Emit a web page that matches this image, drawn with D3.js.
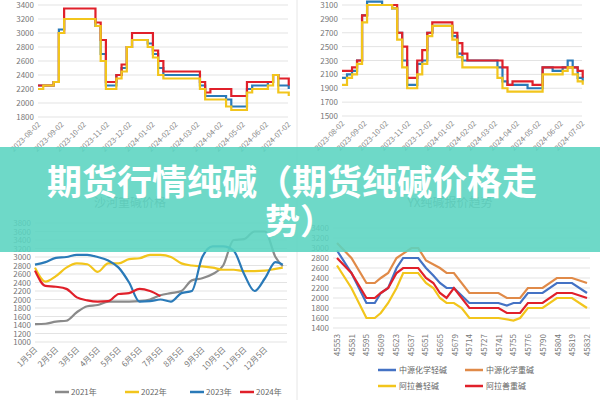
<!DOCTYPE html>
<html><head><meta charset="utf-8">
<script src="https://cdn.jsdelivr.net/npm/d3@7"></script>
<style>body{margin:0;background:#fff}svg{display:block}</style>
</head><body><svg id="c" width="600" height="400"></svg>
<script>
// ---------- data ----------
const weekStart = "2023-08-02", weekCount = 49;
const topTicks = ["2023-08-02","2023-09-02","2023-10-02","2023-11-02","2023-12-02","2024-01-02","2024-02-02","2024-03-02","2024-04-02","2024-05-02","2024-06-02","2024-07-02"];
const tlRed = [2250,2250,2250,2300,3000,3350,3350,3350,3350,3350,3350,3150,2900,2300,2300,2400,2550,2800,3000,3000,3000,3000,2750,2600,2450,2450,2450,2450,2450,2450,2450,2300,2150,2200,2200,2200,2200,2100,2100,2100,2300,2300,2300,2300,2300,2400,2350,2350,2250];
const tlBlue = [2250,2250,2250,2300,3050,3200,3200,3200,3200,3200,3200,3100,2700,2250,2250,2400,2500,2800,2900,2900,2900,2850,2700,2500,2400,2400,2400,2400,2400,2400,2400,2250,2100,2100,2100,2100,2050,1950,1950,1950,2200,2250,2250,2250,2300,2400,2250,2250,2200];
const tlYellow = [2200,2250,2250,2300,3000,3200,3200,3200,3200,3200,3200,3100,2600,2200,2200,2350,2450,2800,2900,2900,2900,2800,2650,2400,2350,2350,2350,2350,2350,2350,2350,2200,2050,2050,2050,2050,1950,1900,1900,1900,2150,2200,2200,2200,2250,2400,2150,2150,2100];
const trRed = [2150,2150,2200,2300,2950,3100,3100,3100,3100,3100,3100,2700,2500,2050,2050,2300,2450,2700,2850,2850,2850,2850,2700,2550,2400,2300,2300,2300,2300,2300,2300,2300,2200,1950,2000,2000,2000,2000,1950,1950,2200,2200,2200,2200,2200,2200,2200,2150,2050];
const trBlue = [2050,2100,2150,2300,2950,3150,3150,3150,3100,3100,3050,2700,2300,1950,1950,2250,2300,2700,2800,2800,2800,2800,2650,2400,2300,2300,2300,2300,2300,2300,2300,2200,2000,1950,1950,1950,1950,1900,1900,1900,2200,2200,2150,2150,2200,2300,2200,2050,2000];
const trYellow = [1950,2050,2100,2250,2850,3100,3100,3100,3100,3100,3050,2600,2200,1900,1900,2100,2250,2650,2800,2800,2800,2800,2600,2350,2200,2200,2200,2200,2200,2200,2200,2050,1900,1850,1850,1850,1850,1850,1850,1850,2100,2100,2100,2100,2150,2200,2100,2000,1950];

const blMonths = ["1月5日","2月5日","3月5日","4月5日","5月5日","6月5日","7月5日","8月5日","9月5日","10月5日","11月5日","12月5日"];
const blPos = [0,0.5,1,1.5,2,2.5,3,3.5,4,4.5,5,5.5,6,6.5,7,7.5,8,8.5,9,9.5,10,10.5,11,11.5,11.85];
const bl2021 = [1420,1430,1480,1500,1700,1840,1870,1950,1950,1950,1960,2000,2100,2150,2200,2450,2500,2600,2800,3400,3420,3600,3600,3000,2780];
const bl2022 = [2750,2420,2550,2750,2850,2830,2650,2850,2850,2950,2970,3050,3050,3000,2850,2800,2780,2750,2700,2700,2670,2670,2680,2720,2750];
const bl2023 = [2820,2880,2980,3000,3050,3050,3000,2920,2750,2400,1950,1960,2000,1950,2150,2200,3000,3250,3250,3150,2600,2200,2500,2880,2820];
const bl2024 = [2680,2320,2300,2250,2050,1980,1950,1960,2130,2150,2250,2200,2080];
const blNames = ["2021年","2022年","2023年","2024年"];

const brCats = ["45553","45581","45595","45609","45623","45637","45651","45665","45679","45714","45727","45741","45755","45776","45790","45804","45819","45832"];
const brPosA = [0,0.98,2,2.57,2.98,3.48,4.05,5.07,5.52,6.05,7.0,7.45,7.95,9.0,10.98,11.55,12.45,12.98,13.98,14.95,15.98,17];
const brOrange = [3100,2800,2300,2300,2400,2500,2800,3000,3000,2750,2600,2500,2500,2100,2100,2000,2000,2200,2200,2400,2400,2300];
const brPosB = [0,0.98,2,2.57,2.98,3.48,4.05,4.5,5.52,6.05,6.55,7.0,7.45,7.95,9.0,10.98,11.55,12.0,12.45,12.98,13.98,14.95,15.98,17];
const brBlue   = [2950,2500,1900,1900,2100,2200,2600,2800,2800,2600,2450,2300,2200,2200,1900,1900,1850,1900,1900,2100,2100,2300,2300,2100];
const brRed    = [2800,2500,2000,2000,2100,2200,2500,2600,2600,2400,2300,2100,2000,2200,1800,1800,1700,1700,1700,1900,1900,2100,2100,2000];
const brPosC = [0,0.98,2,2.57,2.98,3.48,4.05,4.5,5.52,6.05,6.55,7.0,7.45,7.95,8.48,9.0,10.98,12.0,12.45,12.98,13.98,14.95,15.98,17];
const brYellow = [2650,2200,1600,1600,1700,1900,2200,2500,2500,2300,2200,2000,1900,1900,1800,1600,1600,1550,1600,1800,1800,2000,2000,1800];
const brNames = ["中源化学轻碱","中源化学重碱","阿拉善轻碱","阿拉善重碱"];

const titleLines = ["期货行情纯碱（期货纯碱价格走","势）"];
const subTitles = ["沙河重碱价格","YX纯碱报价趋势"];

// ---------- drawing ----------
const svg = d3.select("#c");
const F = "'Noto Sans CJK SC','Noto Sans',sans-serif";
const C = {red:"#e0202a",blue:"#2a7ab8",yellow:"#f2c51c",gray:"#8a8a8a",orange:"#e08a48",blue2:"#4472c4"};
const parse = d3.timeParse("%Y-%m-%d");
const d0 = parse(weekStart);
const weeks = d3.range(weekCount).map(i => d3.timeDay.offset(d0, i*7));

function grid(g, y, ticks, x0, x1){
  ticks.forEach(t => {
    g.append("line").attr("x1",x0).attr("x2",x1).attr("y1",y(t)).attr("y2",y(t)).attr("stroke","#e3e3e3");
    g.append("text").attr("x",x0-4).attr("y",y(t)+3).attr("text-anchor","end").attr("font-size",8).attr("fill","#777").attr("font-family",F).text(t);
  });
}

function topChart(x0,x1,yDom,yRange,ticks,series){
  const g = svg.append("g");
  const x = d3.scaleTime().domain([parse(topTicks[0]),parse(topTicks[topTicks.length-1])]).range([x0,x1]);
  const y = d3.scaleLinear().domain(yDom).range(yRange);
  grid(g,y,ticks,x0,x1);
  topTicks.forEach(t=>{
    g.append("text").attr("transform",`translate(${x(parse(t))+3},${yRange[0]+8}) rotate(-45)`)
     .attr("text-anchor","end").attr("font-size",7.5).attr("fill","#888").attr("font-family",F).text(t);
  });
  series.forEach(([vals,col])=>{
    const line = d3.line().x((d,i)=>x(weeks[i])).y(d=>y(d)).curve(d3.curveStepAfter);
    g.append("path").attr("d",line(vals)).attr("fill","none").attr("stroke",col).attr("stroke-width",2.2);
  });
}
topChart(38,288,[1800,3400],[117,5],d3.range(1800,3401,200),[[tlBlue,C.blue],[tlRed,C.red],[tlYellow,C.yellow]]);
topChart(342,582,[1500,3100],[116,5],d3.range(1500,3101,200),[[trBlue,C.blue],[trRed,C.red],[trYellow,C.yellow]]);
svg.append("line").attr("x1",297).attr("x2",297).attr("y1",0).attr("y2",400).attr("stroke","#e6e6e6");

// bottom-left
{
  const g = svg.append("g");
  const x = d3.scaleLinear().domain([0,11]).range([35,265]);
  const y = d3.scaleLinear().domain([1000,3800]).range([342,223]);
  grid(g,y,d3.range(1000,3801,200),35,287);
  blMonths.forEach((m,i)=>{
    g.append("text").attr("transform",`translate(${x(i)+3},${350}) rotate(-45)`).attr("text-anchor","end")
     .attr("font-size",8).attr("fill","#777").attr("font-family",F).text(m);
  });
  const sets=[[bl2021,C.gray],[bl2022,C.yellow],[bl2023,C.blue],[bl2024,C.red]];
  sets.forEach(([v,c])=>{
    const line=d3.line().x((d,i)=>x(blPos[i])).y(d=>y(d)).curve(d3.curveMonotoneX);
    g.append("path").attr("d",line(v)).attr("fill","none").attr("stroke",c).attr("stroke-width",2.2);
  });
  const lx=[55,125,190,240];
  blNames.forEach((n,i)=>{
    g.append("line").attr("x1",lx[i]).attr("x2",lx[i]+14).attr("y1",392).attr("y2",392).attr("stroke",sets[i][1]).attr("stroke-width",2.5);
    g.append("text").attr("x",lx[i]+16).attr("y",395).attr("font-size",8).attr("fill","#666").attr("font-family",F).text(n);
  });
  g.append("text").attr("x",130).attr("y",207).attr("text-anchor","middle").attr("font-size",12).attr("fill","#888").attr("font-family",F).text(subTitles[0]);
}
// bottom-right
{
  const g = svg.append("g");
  const x = d3.scaleLinear().domain([0,17]).range([337,587]);
  const y = d3.scaleLinear().domain([1400,3400]).range([328,228]);
  grid(g,y,d3.range(1400,3401,200),333,590);
  brCats.forEach((c,i)=>{
    g.append("text").attr("transform",`translate(${x(i)+3},${334}) rotate(-90)`).attr("text-anchor","end")
     .attr("font-size",8).attr("fill","#777").attr("font-family",F).text(c);
  });
  const sets=[[brPosA,brOrange,C.orange],[brPosB,brBlue,C.blue2],[brPosB,brRed,C.red],[brPosC,brYellow,C.yellow]];
  sets.forEach(([p,v,c])=>{
    const line=d3.line().x((d,i)=>x(p[i])).y(d=>y(d)).curve(d3.curveLinear);
    g.append("path").attr("d",line(v)).attr("fill","none").attr("stroke",c).attr("stroke-width",2.2);
  });
  const leg=[[brNames[0],C.blue2,378,370],[brNames[1],C.orange,465,370],[brNames[2],C.yellow,378,386],[brNames[3],C.red,465,386]];
  leg.forEach(([n,c,lx,ly])=>{
    g.append("line").attr("x1",lx).attr("x2",lx+18).attr("y1",ly).attr("y2",ly).attr("stroke",c).attr("stroke-width",2.5);
    g.append("text").attr("x",lx+21).attr("y",ly+3).attr("font-size",8).attr("fill","#666").attr("font-family",F).text(n);
  });
  g.append("text").attr("x",450).attr("y",207).attr("text-anchor","middle").attr("font-size",12).attr("fill","#888").attr("font-family",F).text(subTitles[1]);
}
// banner
svg.append("rect").attr("x",0).attr("y",147).attr("width",600).attr("height",105).attr("fill","rgba(90,212,192,0.88)");
titleLines.forEach((t,i)=>{
  svg.append("text").attr("x",i?300:292).attr("y",i?234:195).attr("text-anchor","middle")
   .attr("font-size",35).attr("font-weight","bold").attr("fill","#fff").attr("font-family",F).text(t);
});
</script></body></html>
